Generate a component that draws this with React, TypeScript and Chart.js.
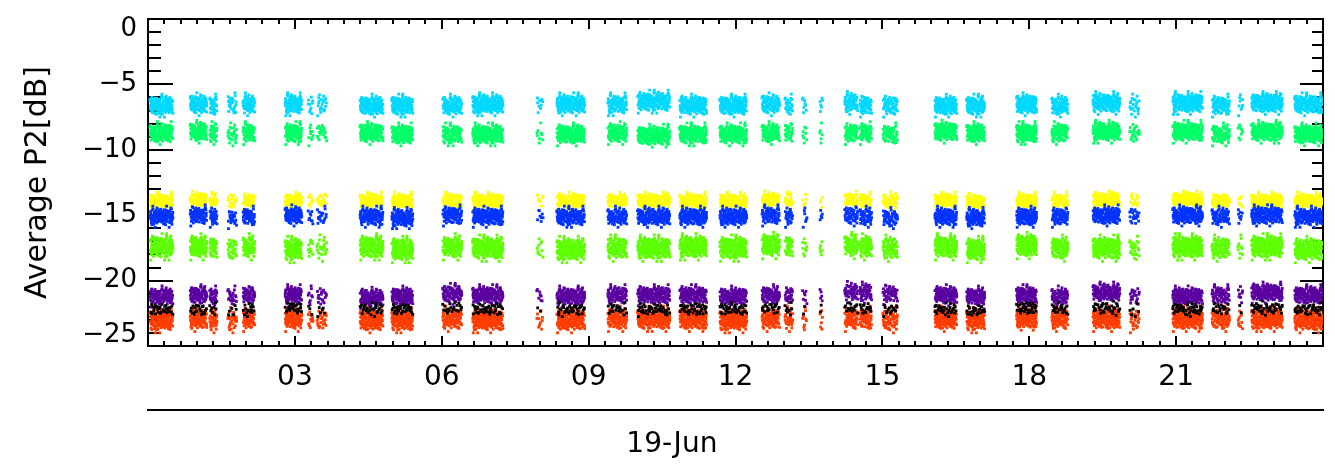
import React, { useEffect, useRef } from "react";
import { Chart, registerables } from "chart.js";

Chart.register(...registerables);

// ---------- DATA ----------
// Measurement bursts on 19-Jun, hours UT (start / end of each burst)
const burstStart = [
  0.04, 0.86, 1.26, 1.63, 1.94, 2.8, 3.27, 3.45, 4.33, 4.98, 6.02, 6.63,
  7.94, 8.35, 9.39, 10.0, 10.86, 11.68, 12.54, 13.01, 13.37, 13.72, 14.23,
  14.54, 15.01, 16.07, 16.72, 17.74, 18.46, 19.3, 20.05, 20.93, 21.73, 22.26,
  22.54, 23.42,
];
const burstEnd = [
  0.51, 1.2, 1.41, 1.81, 2.18, 3.14, 3.37, 3.65, 4.8, 5.41, 6.41, 7.25, 8.07,
  8.92, 9.78, 10.66, 11.41, 12.23, 12.9, 13.17, 13.46, 13.78, 14.5, 14.78,
  15.31, 16.52, 17.09, 18.15, 18.79, 19.85, 20.25, 21.54, 22.09, 22.36, 23.17,
  23.99,
];
// How densely each burst is filled with samples (1 = solid cloud)
const burstDensity = [
  1, 0.9, 0.7, 0.55, 0.75, 0.95, 0.45, 0.45, 1, 1, 0.9, 1, 0.4, 1, 0.9, 1, 1,
  1, 0.85, 0.6, 0.35, 0.25, 0.75, 0.75, 0.75, 1, 1, 1, 0.75, 1, 0.5, 1, 0.75,
  0.4, 1, 1,
];

// Mean level (dB) of every series in every burst
const cyanLevels = [
  -6.6, -6.5, -6.6, -6.5, -6.5, -6.5, -6.6, -6.5, -6.6, -6.6, -6.6, -6.5, -6.6,
  -6.5, -6.5, -6.3, -6.6, -6.6, -6.5, -6.6, -6.6, -6.5, -6.4, -6.6, -6.6, -6.6,
  -6.6, -6.5, -6.6, -6.4, -6.6, -6.4, -6.6, -6.5, -6.4, -6.5,
];
const springLevels = [
  -8.7, -8.6, -8.7, -8.8, -8.7, -8.7, -8.8, -8.7, -8.7, -8.8, -8.8, -8.8, -8.8,
  -8.8, -8.7, -8.9, -8.8, -8.8, -8.7, -8.7, -8.8, -8.8, -8.7, -8.7, -8.8, -8.6,
  -8.7, -8.7, -8.7, -8.6, -8.7, -8.6, -8.8, -8.7, -8.6, -8.8,
];
const yellowLevels = [
  -13.9, -13.8, -13.9, -13.9, -13.9, -13.9, -13.9, -13.8, -13.9, -13.9, -13.9,
  -13.9, -13.8, -13.9, -13.9, -13.9, -13.9, -13.9, -13.8, -13.9, -13.9, -13.9,
  -13.8, -13.9, -13.9, -13.9, -14.0, -13.9, -13.9, -13.8, -13.9, -13.8, -13.9,
  -13.9, -13.9, -13.9,
];
const blueLevels = [
  -15.1, -15.0, -15.1, -15.2, -15.1, -15.0, -15.1, -15.1, -15.1, -15.2, -15.0,
  -15.1, -15.1, -15.1, -15.1, -15.1, -15.1, -15.1, -15.0, -15.1, -15.1, -15.1,
  -15.0, -15.1, -15.2, -15.1, -15.2, -15.1, -15.1, -15.0, -15.1, -15.0, -15.1,
  -15.1, -15.0, -15.1,
];
const limeLevels = [
  -17.4, -17.4, -17.5, -17.6, -17.4, -17.6, -17.5, -17.5, -17.4, -17.6, -17.4,
  -17.5, -17.5, -17.6, -17.5, -17.5, -17.4, -17.5, -17.3, -17.4, -17.5, -17.5,
  -17.3, -17.4, -17.5, -17.4, -17.6, -17.3, -17.5, -17.5, -17.6, -17.4, -17.5,
  -17.5, -17.4, -17.6,
];
const purpleLevels = [
  -21.2, -21.1, -21.2, -21.2, -21.1, -21.1, -21.2, -21.2, -21.3, -21.2, -21.0,
  -21.1, -21.2, -21.2, -21.1, -21.1, -21.1, -21.2, -21.1, -21.1, -21.2, -21.2,
  -20.85, -20.9, -21.0, -21.1, -21.2, -21.1, -21.2, -20.9, -21.2, -21.2, -21.1,
  -21.1, -20.9, -21.1,
];
const blackLevels = [
  -22.2, -22.2, -22.2, -22.3, -22.2, -22.1, -22.2, -22.2, -22.2, -22.2, -22.1,
  -22.2, -22.2, -22.2, -22.2, -22.2, -22.2, -22.2, -22.1, -22.2, -22.2, -22.2,
  -22.1, -22.1, -22.2, -22.2, -22.3, -22.1, -22.2, -22.1, -22.2, -22.2, -22.2,
  -22.2, -22.1, -22.2,
];
const orangeLevels = [
  -23.0, -22.9, -23.0, -23.0, -22.9, -22.9, -23.0, -23.0, -23.0, -23.0, -22.9,
  -23.0, -23.0, -23.0, -22.9, -22.9, -22.9, -23.0, -22.9, -22.9, -23.0, -23.0,
  -22.9, -22.9, -23.0, -22.9, -23.0, -22.8, -22.9, -22.9, -23.0, -22.9, -22.9,
  -23.0, -22.9, -23.0,
];
// Half-height of the scatter of each series around its level (dB)
const seriesSpread = [0.65, 0.65, 0.5, 0.6, 0.75, 0.6, 0.4, 0.72];
const seriesNames = ["cyan", "spring", "yellow", "blue", "lime", "purple", "black", "orange"];

// Hand-read scatter shape inside a burst: position across (0..1) and height (-1..1)
const cloudU = [
  0.52, 0.13, 0.87, 0.34, 0.71, 0.05, 0.46, 0.93, 0.24, 0.63, 0.38, 0.81, 0.09,
  0.57, 0.29, 0.76, 0.18, 0.98, 0.42, 0.66, 0.01, 0.55, 0.32, 0.84, 0.11, 0.69,
  0.47, 0.22, 0.91, 0.36, 0.6, 0.15, 0.79, 0.27, 0.5, 0.95, 0.07, 0.73, 0.4,
  0.62, 0.2, 0.86, 0.44, 0.03, 0.67, 0.31, 0.89, 0.58, 0.12, 0.77, 0.35, 0.96,
  0.25, 0.53, 0.83, 0.16, 0.48, 0.7, 0.39, 0.99,
];
const cloudV = [
  0.05, -0.42, 0.31, 0.78, -0.15, 0.56, -0.83, 0.12, -0.61, 0.47, 0.92, -0.28,
  -0.05, -0.71, 0.24, 0.63, -0.39, -0.94, 0.38, -0.52, 0.71, 0.18, -0.24, -0.58,
  0.86, 0.02, 0.55, -0.87, 0.44, -0.11, -0.36, 0.29, 0.69, -0.47, 0.81, -0.66,
  -0.19, 0.09, -1.05, 1.32, 0.41, -0.08, -0.55, 0.15, 0.97, -0.77, 0.26, -0.31,
  0.62, -0.99, 0.11, 0.52, -0.22, 1.08, -0.41, -1.38, 0.35, -0.63, 0.74, -0.16,
];

const xTickHours = [3, 6, 9, 12, 15, 18, 21];
const xTickLabels = ["03", "06", "09", "12", "15", "18", "21"];
const dateLabelHour = [10.7];
const dateLabels = ["19-Jun"];
const yTickValues = [-25, -20, -15, -10, -5, 0];
const yTickLabels: (string | string[])[] = [["\u221225", ""], "\u221220", "\u221215", "\u221210", "\u22125", ["", "0"]];
const yTitle = "Average P2[dB]";

// ---------- STYLE ----------
const seriesColors = ["#00d8ff", "#00ff66", "#ffff00", "#0033ff", "#5cff00", "#5a00a0", "#000000", "#ff3c00"];
const seriesWeight = [1, 1, 1, 1, 1, 1, 0.45, 1];
const seriesOrder = [7, 6, 5, 4, 3, 2, 0, 1];
const FONT = "'DejaVu Sans', 'Liberation Sans', sans-serif";
const TILE_HOURS = 0.09;
const POINTS_PER_TILE = 22;

const allLevels = [cyanLevels, springLevels, yellowLevels, blueLevels, limeLevels, purpleLevels, blackLevels, orangeLevels];

function cloudPoints(levels: number[], spread: number, band: number, weight: number) {
  const pts: { x: number; y: number }[] = [];
  for (let b = 0; b < burstStart.length; b++) {
    const w = burstEnd[b] - burstStart[b];
    const nTiles = Math.max(1, Math.round(w / TILE_HOURS));
    const tw = w / nTiles;
    const k = Math.max(2, Math.round(POINTS_PER_TILE * burstDensity[b] * weight * (spread / 0.65)));
    for (let t = 0; t < nTiles; t++) {
      const s = (t * 17 + band * 11 + b * 7) % cloudU.length;
      for (let j = 0; j < k; j++) {
        const idx = (s + j) % cloudU.length;
        pts.push({ x: burstStart[b] + (t + cloudU[idx]) * tw, y: levels[b] + cloudV[idx] * spread });
      }
    }
  }
  return pts;
}

const frameTicks = {
  id: "frameTicks",
  beforeDatasetsDraw(chart: any) {
    const { ctx, chartArea } = chart;
    const { left, right, top, bottom } = chartArea;
    const xs = chart.scales.x;
    const ys = chart.scales.y;
    ctx.save();
    ctx.strokeStyle = "#000";
    ctx.lineWidth = 2;
    ctx.strokeRect(left, top, right - left, bottom - top);
    ctx.beginPath();
    for (let v = -25; v <= 0; v += 1) {
      const py = Math.round(ys.getPixelForValue(v));
      const major = v % 5 === 0;
      ctx.moveTo(left, py);
      ctx.lineTo(left + (major ? 25 : 13), py);
      ctx.moveTo(right, py);
      ctx.lineTo(right - (major ? 23 : 11), py);
    }
    for (let i = 0; i <= 72; i++) {
      const px = Math.round(xs.getPixelForValue(i / 3));
      const major = i % 9 === 0;
      ctx.moveTo(px, bottom);
      ctx.lineTo(px, bottom - (major ? 10 : 5));
      ctx.moveTo(px, top);
      ctx.lineTo(px, top + (major ? 10 : 5));
    }
    ctx.stroke();
    ctx.restore();
  },
};

export default function App() {
  const ref = useRef<HTMLCanvasElement | null>(null);
  useEffect(() => {
    if (!ref.current) return;
    const datasets = seriesNames.map((name, i) => ({
      label: name,
      data: cloudPoints(allLevels[i], seriesSpread[i], i, seriesWeight[i]),
      backgroundColor: seriesColors[i],
      borderColor: seriesColors[i],
      borderWidth: 0,
      pointStyle: "rect" as const,
      pointRadius: 2,
      pointHoverRadius: 0,
      order: seriesOrder[i],
    }));
    const chart = new Chart(ref.current, {
      type: "scatter",
      data: { datasets },
      options: {
        animation: false,
        responsive: false,
        devicePixelRatio: 1,
        events: [],
        layout: { padding: { top: 19, right: 12, left: 0, bottom: 0 } },
        plugins: { legend: { display: false }, tooltip: { enabled: false } },
        scales: {
          x: {
            type: "linear",
            position: "bottom",
            weight: 0,
            min: 0,
            max: 24,
            grid: { display: false, drawTicks: false },
            border: { display: false },
            afterBuildTicks: (s: any) => {
              s.ticks = xTickHours.map((v) => ({ value: v }));
            },
            afterFit: (s: any) => {
              s.height = 64;
              s.paddingLeft = 0;
              s.paddingRight = 0;
            },
            ticks: {
              autoSkip: false,
              maxRotation: 0,
              padding: 15,
              color: "#000",
              font: { family: FONT, size: 28 },
              callback: (_v: any, i: number) => xTickLabels[i],
            },
          },
          x2: {
            type: "linear",
            position: "bottom",
            weight: 1,
            min: 0,
            max: 24,
            grid: { display: false, drawTicks: false },
            border: { display: true, color: "#000", width: 2 },
            afterBuildTicks: (s: any) => {
              s.ticks = dateLabelHour.map((v) => ({ value: v }));
            },
            afterFit: (s: any) => {
              s.height = 63;
              s.paddingLeft = 0;
              s.paddingRight = 0;
            },
            ticks: {
              autoSkip: false,
              maxRotation: 0,
              padding: 18,
              color: "#000",
              font: { family: FONT, size: 28 },
              callback: (_v: any, i: number) => dateLabels[i],
            },
          },
          y: {
            type: "linear",
            position: "left",
            min: -25,
            max: 0,
            grid: { display: false, drawTicks: false },
            border: { display: false },
            afterBuildTicks: (s: any) => {
              s.ticks = yTickValues.map((v) => ({ value: v }));
            },
            afterFit: (s: any) => {
              s.width = 148;
              s.paddingTop = 0;
              s.paddingBottom = 0;
            },
            ticks: {
              autoSkip: false,
              padding: 11,
              color: "#000",
              font: { family: FONT, size: 26, lineHeight: 0.8 },
              callback: (_v: any, i: number) => yTickLabels[i],
            },
            title: {
              display: true,
              text: yTitle,
              color: "#000",
              font: { family: FONT, size: 30 },
              padding: { top: 20, bottom: 0 },
            },
          },
        },
      },
      plugins: [frameTicks],
    });
    return () => chart.destroy();
  }, []);
  return (
    <div style={{ position: "fixed", left: 0, top: 0, width: 1335, height: 473, background: "#fff" }}>
      <canvas ref={ref} width={1335} height={473} style={{ display: "block" }} />
    </div>
  );
}
